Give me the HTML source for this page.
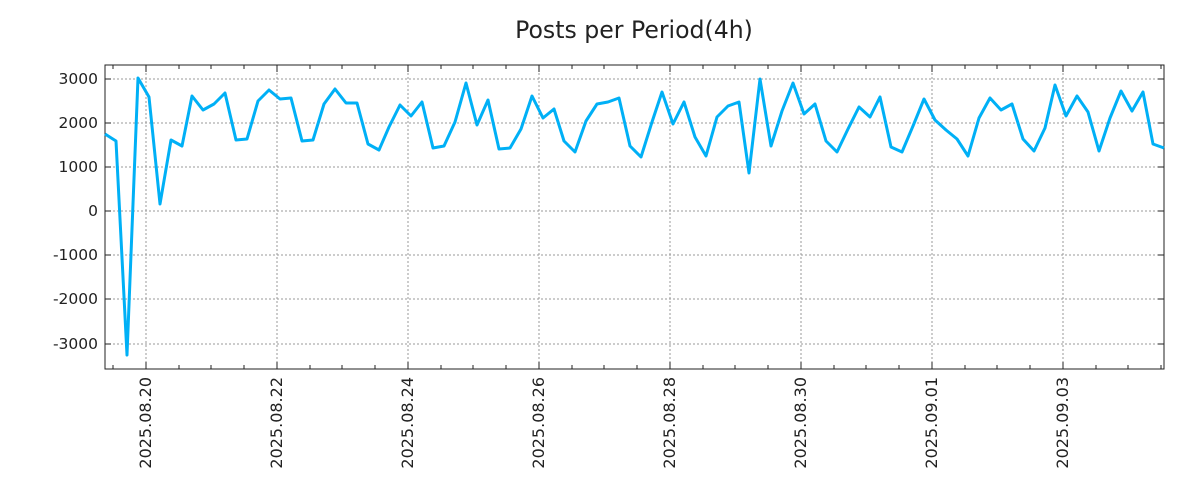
<!DOCTYPE html>
<html><head><meta charset="utf-8"><style>body{margin:0;background:#fff}svg{display:block}</style></head><body>
<svg width="1200" height="500" xmlns="http://www.w3.org/2000/svg" font-family="DejaVu Sans, Liberation Sans, sans-serif">
<rect width="1200" height="500" fill="#fff"/>
<text x="634" y="38" font-size="23.6" text-anchor="middle" fill="#222">Posts per Period(4h)</text>
<g stroke="#999" stroke-dasharray="2,2" stroke-width="1">
<line x1="105" x2="1164" y1="79" y2="79"/><line x1="105" x2="1164" y1="123" y2="123"/><line x1="105" x2="1164" y1="167" y2="167"/><line x1="105" x2="1164" y1="211" y2="211"/><line x1="105" x2="1164" y1="255" y2="255"/><line x1="105" x2="1164" y1="299" y2="299"/><line x1="105" x2="1164" y1="344" y2="344"/>
<line y1="65" y2="368" x1="146" x2="146"/><line y1="65" y2="368" x1="277" x2="277"/><line y1="65" y2="368" x1="408" x2="408"/><line y1="65" y2="368" x1="539" x2="539"/><line y1="65" y2="368" x1="670" x2="670"/><line y1="65" y2="368" x1="801" x2="801"/><line y1="65" y2="368" x1="932" x2="932"/><line y1="65" y2="368" x1="1063" x2="1063"/>
</g>
<g stroke="#222" stroke-width="1">
<path d="M113 369v-4M179 369v-4M211 369v-4M244 369v-4M310 369v-4M342 369v-4M375 369v-4M441 369v-4M473 369v-4M506 369v-4M572 369v-4M604 369v-4M637 369v-4M703 369v-4M735 369v-4M768 369v-4M834 369v-4M866 369v-4M899 369v-4M965 369v-4M997 369v-4M1030 369v-4M1096 369v-4M1128 369v-4M1161 369v-4"/>
<path d="M113 65v4M179 65v4M211 65v4M244 65v4M310 65v4M342 65v4M375 65v4M441 65v4M473 65v4M506 65v4M572 65v4M604 65v4M637 65v4M703 65v4M735 65v4M768 65v4M834 65v4M866 65v4M899 65v4M965 65v4M997 65v4M1030 65v4M1096 65v4M1128 65v4M1161 65v4"/>
<path d="M146 369v-7M277 369v-7M408 369v-7M539 369v-7M670 369v-7M801 369v-7M932 369v-7M1063 369v-7M146 65v7M277 65v7M408 65v7M539 65v7M670 65v7M801 65v7M932 65v7M1063 65v7"/>
<path d="M105 79h6M105 123h6M105 167h6M105 211h6M105 255h6M105 299h6M105 344h6M1164 79h-6M1164 123h-6M1164 167h-6M1164 211h-6M1164 255h-6M1164 299h-6M1164 344h-6"/>
</g>
<rect x="105" y="65" width="1059" height="304" fill="none" stroke="#222" stroke-width="1"/>
<polyline fill="none" stroke="#00b0f6" stroke-width="3" stroke-linejoin="round" points="105,134 116,141 127,355 138,78 149,97 160,204 171,140 182,146 192,96 203,110 214,104 225,93 236,140 247,139 258,101 269,90 280,99 291,98 302,141 313,140 324,104 335,89 346,103 357,103 368,144 379,150 389,127 400,105 411,116 422,102 433,148 444,146 455,122 466,83 477,125 488,100 499,149 510,148 521,129 532,96 543,118 554,109 564,141 575,152 586,121 597,104 608,102 619,98 630,146 641,157 652,122 662,92 673,124 684,102 695,137 706,156 717,117 728,106 739,102 749,173 760,79 771,146 782,111 793,83 804,114 815,104 826,141 837,152 848,129 859,107 870,117 880,97 891,147 902,152 913,126 924,99 935,120 946,130 957,139 968,156 979,118 990,98 1001,110 1012,104 1023,139 1034,151 1045,128 1055,85 1066,116 1077,96 1088,112 1099,151 1110,118 1121,91 1132,111 1143,92 1153,144 1164,148"/>
<g font-size="15.5" fill="#222" text-anchor="end">
<text x="98" y="84">3000</text><text x="98" y="128">2000</text><text x="98" y="172">1000</text><text x="98" y="216">0</text><text x="98" y="260">-1000</text><text x="98" y="304">-2000</text><text x="98" y="349">-3000</text>
</g>
<g font-size="16" fill="#222" text-anchor="end">
<text transform="translate(151,377) rotate(-90)">2025.08.20</text>
<text transform="translate(282,377) rotate(-90)">2025.08.22</text>
<text transform="translate(413,377) rotate(-90)">2025.08.24</text>
<text transform="translate(544,377) rotate(-90)">2025.08.26</text>
<text transform="translate(675,377) rotate(-90)">2025.08.28</text>
<text transform="translate(806,377) rotate(-90)">2025.08.30</text>
<text transform="translate(937,377) rotate(-90)">2025.09.01</text>
<text transform="translate(1068,377) rotate(-90)">2025.09.03</text>
</g>
</svg>
</body></html>
